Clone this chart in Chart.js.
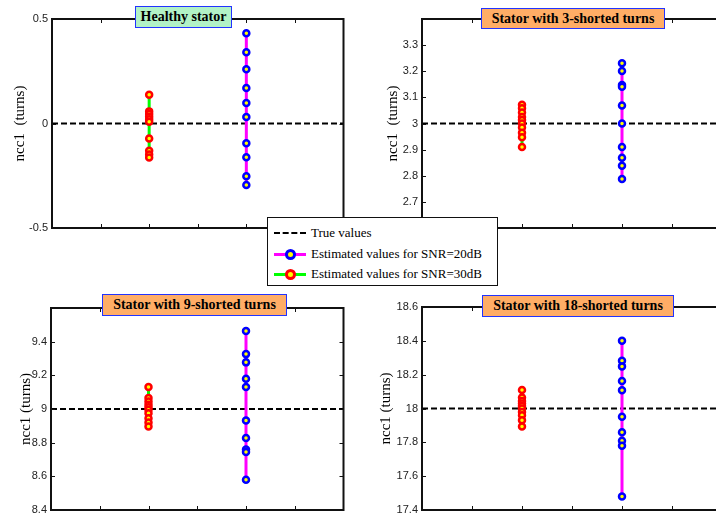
<!DOCTYPE html>
<html>
<head>
<meta charset="utf-8">
<script src="https://cdn.jsdelivr.net/npm/chart.js@4/dist/chart.umd.min.js"></script>
<style>
    html, body { margin: 0; padding: 0; background: #fff; }
    body { width: 716px; height: 516px; position: relative; overflow: hidden; }
    canvas { position: absolute; }
    .ttl {
        position: absolute; box-sizing: border-box;
        font: bold 14px "Liberation Serif", "Times New Roman", serif;
        color: #000; text-align: center; border: 1px solid #2233ff;
        white-space: nowrap;
    }
    .green { background: #b2f2c6; }
    .orange { background: #ffad66; }
    #legend {
        position: absolute; left: 267px; top: 217px; width: 231px; height: 69px;
        box-sizing: border-box; background: #fff; border: 1px solid #111;
        font: 13px "Liberation Serif", "Times New Roman", serif; color: #000;
    }
    .row { position: absolute; left: 0; height: 16px; line-height: 16px; }
    .row span.txt { position: absolute; left: 43px; top: 0; white-space: nowrap; }
    .sample { position: absolute; left: 6px; top: 7px; width: 32px; height: 3px; }
    .dash { border-top: 2px dashed #000; height: 0; top: 7px; }
    .dot {
        position: absolute; left: 11px; top: -4px; width: 5px; height: 5px;
        border-radius: 50%; border: 3px solid; background: #ffff00;
    }
</style>
</head>
<body>
<canvas id="c1" width="350" height="244" style="left:0;top:0"></canvas>
<canvas id="c2" width="360" height="244" style="left:370px;top:0"></canvas>
<canvas id="c3" width="350" height="236" style="left:0;top:290px"></canvas>
<canvas id="c4" width="360" height="236" style="left:370px;top:290px"></canvas>

<div class="ttl green" style="left:135px;top:6px;width:97px;height:22px;line-height:20px">Healthy stator</div>
<div class="ttl orange" style="left:481px;top:8px;width:184px;height:21px;line-height:19px">Stator with 3-shorted turns</div>
<div class="ttl orange" style="left:102px;top:294px;width:185px;height:22px;line-height:20px">Stator with 9-shorted turns</div>
<div class="ttl orange" style="left:482px;top:295px;width:192px;height:22px;line-height:20px">Stator with 18-shorted turns</div>

<div id="legend">
    <div class="row" style="top:7px;width:229px">
        <div class="sample dash"></div><span class="txt">True values</span>
    </div>
    <div class="row" style="top:28px;width:229px">
        <div class="sample" style="background:#ff00ff"><div class="dot" style="border-color:#0000ff"></div></div>
        <span class="txt">Estimated values for SNR=20dB</span>
    </div>
    <div class="row" style="top:48px;width:229px">
        <div class="sample" style="background:#00ff00"><div class="dot" style="border-color:#ff0000"></div></div>
        <span class="txt">Estimated values for SNR=30dB</span>
    </div>
</div>

<script>
// values
const trueValues = [0, 3, 9, 18];

const healthy20 = [0.432, 0.341, 0.259, 0.170, 0.098, 0.031, -0.095, -0.161, -0.252, -0.294];
const healthy30 = [0.138, 0.058, 0.045, 0.032, 0.020, 0.008, -0.072, -0.130, -0.148, -0.163];

const turns3_20 = [3.231, 3.201, 3.147, 3.141, 3.069, 3.000, 2.910, 2.869, 2.838, 2.788];
const turns3_30 = [3.072, 3.058, 3.042, 3.025, 3.013, 3.000, 2.985, 2.965, 2.947, 2.910];

const turns9_20 = [9.464, 9.326, 9.277, 9.180, 9.131, 8.932, 8.828, 8.760, 8.745, 8.580];
const turns9_30 = [9.131, 9.066, 9.045, 9.025, 9.010, 8.995, 8.975, 8.945, 8.920, 8.896];

const turns18_20 = [18.400, 18.282, 18.249, 18.163, 18.108, 17.951, 17.859, 17.810, 17.780, 17.480];
const turns18_30 = [18.110, 18.065, 18.045, 18.030, 18.015, 18.000, 17.980, 17.960, 17.930, 17.894];

// y tick labels and ranges
const healthyTicks = [-0.5, 0, 0.5];
const turns3Ticks = [2.7, 2.8, 2.9, 3, 3.1, 3.2, 3.3];
const turns9Ticks = [8.4, 8.6, 8.8, 9, 9.2, 9.4];
const turns18Ticks = [17.4, 17.6, 17.8, 18, 18.2, 18.4, 18.6];

const healthyRange = [-0.5, 0.5];
const turns3Range = [2.6, 3.4];
const turns9Range = [8.4, 9.6];
const turns18Range = [17.4, 18.6];

const xTicks = [1, 2, 3, 4, 5];
const xRange = [0, 6];
const xSnr30 = 2;
const xSnr20 = 4;

// box round the plot area with small inward ticks, like matlab
const boxPlugin = {
    id: 'box',
    afterDraw(chart) {
        const ctx = chart.ctx;
        const a = chart.chartArea;
        const xs = chart.scales.x, ys = chart.scales.y;
        ctx.save();
        ctx.strokeStyle = '#111';
        ctx.lineWidth = 2;
        ctx.strokeRect(a.left, a.top, a.right - a.left, a.bottom - a.top);
        ctx.lineWidth = 1;
        ctx.beginPath();
        xTicks.forEach(function(v) {
            const px = Math.round(xs.getPixelForValue(v)) + 0.5;
            ctx.moveTo(px, a.bottom); ctx.lineTo(px, a.bottom - 4);
            ctx.moveTo(px, a.top); ctx.lineTo(px, a.top + 4);
        });
        ys.ticks.forEach(function(t) {
            const py = Math.round(ys.getPixelForValue(t.value)) + 0.5;
            ctx.moveTo(a.left, py); ctx.lineTo(a.left + 4, py);
            ctx.moveTo(a.right, py); ctx.lineTo(a.right - 4, py);
        });
        ctx.stroke();
        ctx.restore();
    }
};

function makePanel(id, truth, est20, est30, ticks, range, yTitle, axisW, pad, titlePad) {
    const ctx = document.getElementById(id).getContext('2d');
    return new Chart(ctx, {
        type: 'scatter',
        data: {
            datasets: [{
                label: 'True values',
                data: xRange.map(function(x) { return {x: x, y: truth}; }),
                showLine: true,
                borderColor: '#000',
                borderWidth: 2,
                borderDash: [6, 3],
                pointRadius: 0,
                order: 3
            }, {
                label: 'Estimated values for SNR=20dB',
                data: est20.map(function(v) { return {x: xSnr20, y: v}; }),
                showLine: true,
                borderColor: '#ff00ff',
                borderWidth: 3,
                pointRadius: 3,
                pointBorderWidth: 2.5,
                pointBorderColor: '#0000ff',
                pointBackgroundColor: '#ffff00',
                order: 2
            }, {
                label: 'Estimated values for SNR=30dB',
                data: est30.map(function(v) { return {x: xSnr30, y: v}; }),
                showLine: true,
                borderColor: '#00ff00',
                borderWidth: 3,
                pointRadius: 3,
                pointBorderWidth: 2.5,
                pointBorderColor: '#ff0000',
                pointBackgroundColor: '#ffff00',
                order: 1
            }]
        },
        options: {
            responsive: false,
            animation: false,
            layout: { padding: pad },
            plugins: { legend: { display: false }, tooltip: { enabled: false } },
            scales: {
                x: {
                    display: false,
                    min: xRange[0],
                    max: xRange[1]
                },
                y: {
                    min: range[0],
                    max: range[1],
                    grid: { display: false, drawTicks: false },
                    border: { display: false },
                    afterBuildTicks: function(scale) {
                        scale.ticks = ticks.map(function(v) { return {value: v}; });
                    },
                    afterFit: function(scale) { scale.width = axisW; },
                    ticks: {
                        padding: 4,
                        color: '#222',
                        font: { family: 'Liberation Sans, Arial, sans-serif', size: 11 },
                        callback: function(v) { return String(Math.round(v * 10) / 10); }
                    },
                    title: {
                        display: true,
                        text: yTitle,
                        color: '#000',
                        padding: { top: titlePad, bottom: 0 },
                        font: { family: 'Liberation Serif, Times New Roman, serif', size: 15 }
                    }
                }
            }
        },
        plugins: [boxPlugin]
    });
}

makePanel('c1', trueValues[0], healthy20, healthy30, healthyTicks, healthyRange,
    'ncc1  (turns)', 52, {top: 19, right: 4, bottom: 16, left: 0}, 11);
makePanel('c2', trueValues[1], turns3_20, turns3_30, turns3Ticks, turns3Range,
    'ncc1  (turns)', 52, {top: 19, right: 8, bottom: 16, left: 0}, 14);
makePanel('c3', trueValues[2], turns9_20, turns9_30, turns9Ticks, turns9Range,
    'ncc1 (turns)', 51, {top: 18, right: 5, bottom: 16, left: 0}, 17);
makePanel('c4', trueValues[3], turns18_20, turns18_30, turns18Ticks, turns18Range,
    'ncc1 (turns)', 52, {top: 17, right: 8, bottom: 16, left: 0}, 7);
</script>
</body>
</html>
